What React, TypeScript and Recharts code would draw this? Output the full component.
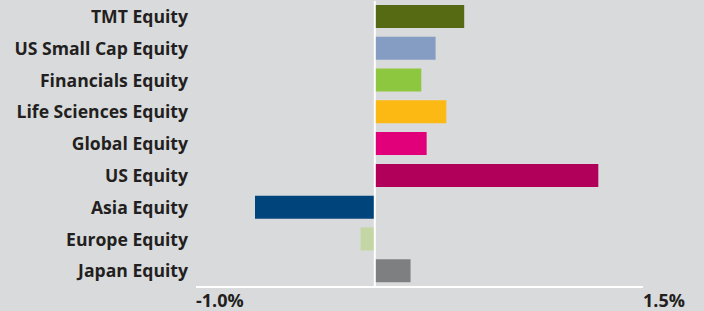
import React from "react";
import { BarChart, Bar, XAxis, YAxis, Cell, ReferenceLine } from "recharts";

const categories = [
  "TMT Equity",
  "US Small Cap Equity",
  "Financials Equity",
  "Life Sciences Equity",
  "Global Equity",
  "US Equity",
  "Asia Equity",
  "Europe Equity",
  "Japan Equity",
];
const values = [0.5, 0.34, 0.26, 0.4, 0.29, 1.25, -0.67, -0.08, 0.2];
const colors = [
  "#556a13",
  "#859dc2",
  "#8dc63f",
  "#fdb913",
  "#e2007a",
  "#b0005a",
  "#00447c",
  "#c5d6a5",
  "#7e7f81",
];
const xTicks = [-1.0, 1.5];
const xTickLabels = ["-1.0%", "1.5%"];

const data = categories.map((name, i) => ({ name, value: values[i] }));

const FONT = "'Open Sans', 'DejaVu Sans', sans-serif";
const TEXT = "#231f20";

const XTick = (props: any) => {
  const { x, y, payload } = props;
  const idx = xTicks.indexOf(payload.value);
  return (
    <text
      x={x}
      y={y + 19.5}
      textAnchor="start"
      fontFamily={FONT}
      fontWeight={700}
      fontSize={18}
      fill={TEXT}
    >
      {xTickLabels[idx]}
    </text>
  );
};

export default function App() {
  return (
    <div style={{ position: "absolute", left: 0, top: 0, width: 704, height: 311, background: "#d9dadc" }}>
      <BarChart
        width={704}
        height={311}
        data={data}
        layout="vertical"
        margin={{ top: 1, right: 61, bottom: 0, left: 0 }}
      >
        <XAxis
          type="number"
          domain={[-1, 1.5]}
          ticks={xTicks}
          allowDataOverflow
          height={24}
          tickLine={false}
          tickSize={0}
          tickMargin={0}
          axisLine={{ stroke: "#ffffff", strokeWidth: 2 }}
          tick={<XTick />}
          interval={0}
        />
        <YAxis
          type="category"
          dataKey="name"
          width={196}
          axisLine={false}
          tickLine={false}
          tickSize={0}
          tickMargin={8}
          interval={0}
          tick={{ fontFamily: FONT, fontWeight: 700, fontSize: 17.6, fill: TEXT }}
        />
        <ReferenceLine x={0} stroke="#ffffff" strokeWidth={2} />
        <Bar dataKey="value" barSize={23} isAnimationActive={false}>
          {data.map((d, i) => (
            <Cell key={d.name} fill={colors[i]} />
          ))}
        </Bar>
      </BarChart>
    </div>
  );
}
